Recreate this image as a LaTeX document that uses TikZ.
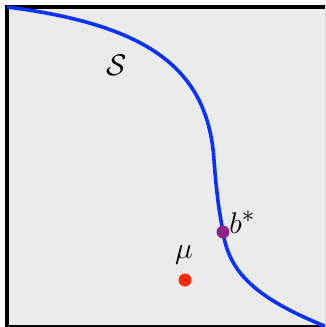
\documentclass[tikz,border=0pt]{standalone}
\usepackage{amsmath}
\definecolor{ink}{HTML}{000000}
\definecolor{panel}{HTML}{EBEBEB}
\definecolor{curveblue}{HTML}{0A32FF}
\definecolor{optpurple}{HTML}{8E2389}
\definecolor{meanred}{HTML}{FF2A0A}

\begin{document}
\begin{tikzpicture}[x=1pt,y=-1pt,font=\Huge,
  dot/.style={circle,inner sep=0pt,minimum size=13pt},
  lbl/.style={scale=1.2,inner sep=1pt}]
  \clip (0,0) rectangle (325,327);
  \fill[panel] (7,7) rectangle (326,326);
  \draw[ink,line width=4pt] (7,7) rectangle (326.5,326.5);
  \draw[curveblue,line width=3.6pt] (7,7) .. controls (150,25) and (208,70) .. (214,160)
    .. controls (217,200) and (220,215) .. (223,232)
    .. controls (229,272) and (255,298) .. (327,327);
  \node[lbl] (setlabel) at (117,65) {$\mathcal{S}$};
  \node[dot,fill=optpurple] (bdot) at (223,232) {};
  \node[lbl,anchor=west] (blabel) at (228,222) {$b^{*}$};
  \node[dot,fill=meanred] (mudot) at (185,280) {};
  \node[lbl] (mulabel) at (184,255) {$\mu$};
\end{tikzpicture}
\end{document}
